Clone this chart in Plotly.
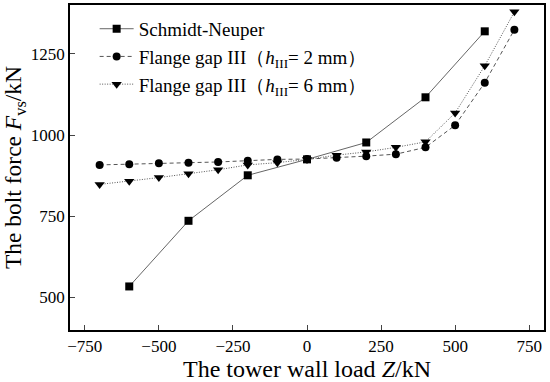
import plotly.graph_objects as go

# Data
sn_x = [-600, -400, -200, 0, 200, 400, 600]
sn_y = [534, 736, 876, 925, 977, 1116, 1319]

g2_x = [-700, -600, -500, -400, -300, -200, -100, 0, 100, 200, 300, 400, 500, 600, 700]
g2_y = [908, 910, 913, 915, 917, 921, 925, 926, 930, 935, 941, 962, 1030, 1161, 1324]

g6_x = [-700, -600, -500, -400, -300, -200, -100, 0, 100, 200, 300, 400, 500, 600, 700]
g6_y = [848, 858, 869, 881, 893, 908, 915, 925, 938, 948, 962, 979, 1068, 1213, 1379]

x_ticks = [-750, -500, -250, 0, 250, 500, 750]
y_ticks = [500, 750, 1000, 1250]

names = ["Schmidt-Neuper",
         "Flange gap III（<i>h</i><sub>III</sub>= 2 mm）",
         "Flange gap III（<i>h</i><sub>III</sub>= 6 mm）"]

FONT = "Liberation Serif, Times New Roman, serif"

fig = go.Figure()
fig.add_trace(go.Scatter(x=sn_x, y=sn_y, name=names[0], mode="lines+markers",
                         line=dict(color="#666666", width=1, dash="solid"),
                         marker=dict(symbol="square", size=8, color="black")))
fig.add_trace(go.Scatter(x=g2_x, y=g2_y, name=names[1], mode="lines+markers",
                         line=dict(color="#555555", width=1, dash="4px,3px"),
                         marker=dict(symbol="circle", size=8, color="black")))
fig.add_trace(go.Scatter(x=g6_x, y=g6_y, name=names[2], mode="lines+markers",
                         line=dict(color="#555555", width=1, dash="1px,1.5px"),
                         marker=dict(symbol="triangle-down", size=9, color="black")))

fig.update_layout(
    width=550, height=382,
    margin=dict(l=70, r=6, t=5, b=52),
    paper_bgcolor="white", plot_bgcolor="white",
    font=dict(family=FONT, size=17, color="black"),
    showlegend=True,
    legend=dict(x=0.052, y=0.985, xanchor="left", yanchor="top",
                bgcolor="rgba(0,0,0,0)", font=dict(size=19, family=FONT),
                tracegroupgap=0, itemwidth=34),
    xaxis=dict(range=[-800, 800], tickvals=x_ticks, ticks="inside", ticklen=5,
               showline=True, linecolor="black", linewidth=1.5, mirror=True,
               showgrid=False, zeroline=False, automargin=False,
               tickfont=dict(size=17, family=FONT),
               title=dict(text="The tower wall load <i>Z</i>/kN", font=dict(size=24, family=FONT))),
    yaxis=dict(range=[400, 1400], tickvals=y_ticks, ticks="inside", ticklen=5,
               showline=True, linecolor="black", linewidth=1.5, mirror=True,
               showgrid=False, zeroline=False, automargin=False,
               tickfont=dict(size=17, family=FONT),
               title=dict(text="The bolt force <i>F</i><sub>vs</sub>/kN", font=dict(size=23.5, family=FONT))),
)

fig.write_html("out.html", config={"displayModeBar": False},
               post_script="document.body.style.margin='0';document.body.style.padding='0';")
